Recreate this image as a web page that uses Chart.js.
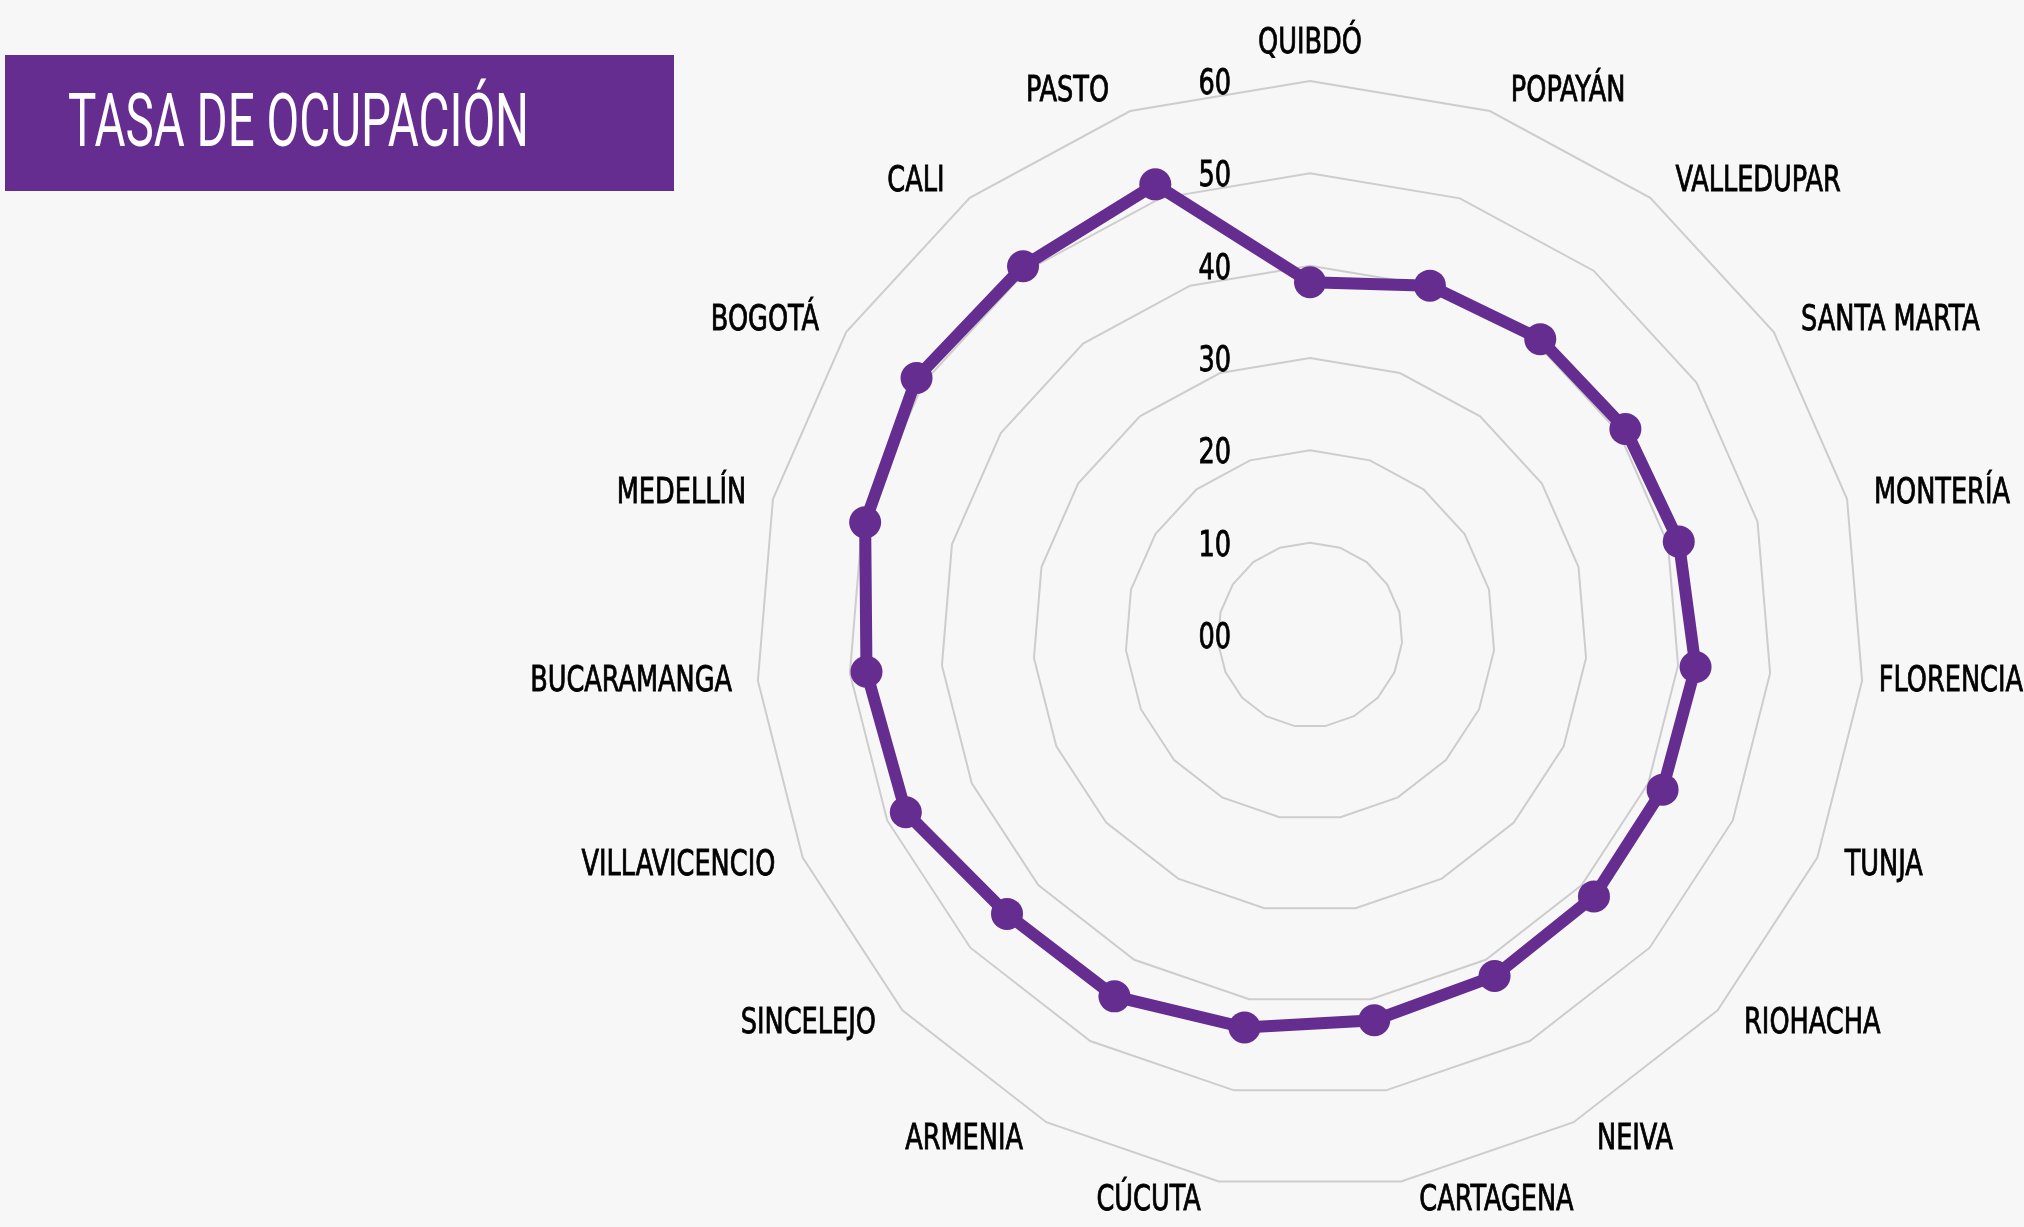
<!DOCTYPE html>
<html lang="es">
<head>
<meta charset="utf-8">
<title>Tasa de ocupación</title>
<script src="https://cdn.jsdelivr.net/npm/chart.js@4.4.1/dist/chart.umd.min.js"></script>
<style>
    html, body { margin: 0; padding: 0; background: #f7f7f7; }
    #wrap { position: absolute; left: 0; top: 0; width: 2024px; height: 1227px; }
    #title-box { position: absolute; left: 5px; top: 55px; width: 669px; height: 136px; background: #652d90; overflow: hidden; }
    #title-text {
        position: absolute; left: 63px; top: 29px; color: #ffffff;
        font-family: Roboto, "Liberation Sans", sans-serif; font-weight: 400; font-size: 74px;
        line-height: 74px; white-space: nowrap; transform-origin: 0 0;
    }
</style>
</head>
<body>
<div id="wrap"><canvas id="radar-chart"></canvas></div>
<div id="title-box"><span id="title-text">TASA DE OCUPACIÓN</span></div>
<script>
// categorias (sentido horario desde arriba)
const cities = [
    'QUIBDÓ', 'POPAYÁN', 'VALLEDUPAR', 'SANTA MARTA', 'MONTERÍA', 'FLORENCIA', 'TUNJA',
    'RIOHACHA', 'NEIVA', 'CARTAGENA', 'CÚCUTA', 'ARMENIA', 'SINCELEJO', 'VILLAVICENCIO',
    'BUCARAMANGA', 'MEDELLÍN', 'BOGOTÁ', 'CALI', 'PASTO'
];
// tasa de ocupacion (%)
const occupancy = [
    38.2, 40.0, 40.6, 40.8, 41.2, 41.9, 41.7,
    41.8, 42.0, 42.3, 43.1, 44.5, 44.6, 47.8,
    48.2, 49.7, 50.9, 50.6, 51.6
];
const tickValues = [0, 10, 20, 30, 40, 50, 60];
const tickLabels = ['00', '10', '20', '30', '40', '50', '60'];

const purple = '#652d90';

function fontExists(name) {
    const c = document.createElement('canvas').getContext('2d');
    const probe = 'QUIBDÓ BUCARAMANGA 0123456789';
    c.font = '40px monospace';
    const base = c.measureText(probe).width;
    c.font = `40px "${name}", monospace`;
    return c.measureText(probe).width !== base;
}

const labelFamily = ['Liberation Sans Narrow', 'DejaVu Sans Condensed', 'Noto Sans']
    .find((f) => fontExists(f)) || 'sans-serif';
const labelFont = `500 35px "${labelFamily}", sans-serif`;

// horizontal squeeze so labels match the condensed face of the original
const measureCtx = document.createElement('canvas').getContext('2d');
measureCtx.font = labelFont;
const squeeze = 202 / measureCtx.measureText('BUCARAMANGA').width;

// title width
const titleEl = document.getElementById('title-text');
measureCtx.font = '400 74px Roboto, "Liberation Sans", sans-serif';
titleEl.style.transform = `scaleX(${461 / measureCtx.measureText(titleEl.textContent).width})`;

function drawSqueezed(ctx, text, x, y, align, baseline) {
    ctx.save();
    ctx.translate(x, y);
    ctx.scale(squeeze, 1);
    ctx.textAlign = align;
    ctx.textBaseline = baseline;
    ctx.strokeText(text, 0, 0);
    ctx.fillText(text, 0, 0);
    ctx.restore();
}

const textPlugin = {
    id: 'radarText',
    afterDraw(chart) {
        const scale = chart.scales.r;
        const ctx = chart.ctx;
        ctx.save();
        ctx.font = labelFont;
        ctx.fillStyle = '#000000';
        ctx.strokeStyle = '#000000';
        ctx.lineWidth = 0.8;

        tickValues.forEach((v, i) => {
            const y = scale.yCenter - scale.getDistanceFromCenterForValue(v) + 4;
            drawSqueezed(ctx, tickLabels[i], scale.xCenter - 79, y, 'right', 'middle');
        });

        cities.forEach((name, i) => {
            const angle = scale.getIndexAngle(i);
            const deg = Math.round(angle * 180 / Math.PI);
            const pos = scale.getPointPosition(i, scale.drawingArea + 20);
            const nudge = 5 + 10 * Math.abs(Math.cos(angle));
            const w = ctx.measureText(name).width * squeeze;
            let align = 'center';
            let x = pos.x;
            if (deg > 0 && deg < 180) {
                align = 'left';
                x = Math.min(x + nudge, chart.width - w - 1);
            } else if (deg > 180) {
                align = 'right';
                x -= nudge;
            }
            const baseline = deg === 0 ? 'bottom' : 'middle';
            drawSqueezed(ctx, name, x, pos.y, align, baseline);
        });
        ctx.restore();
    }
};

new Chart(document.getElementById('radar-chart'), {
    type: 'radar',
    data: {
        labels: cities,
        datasets: [{
            label: 'Tasa de ocupación',
            data: occupancy,
            borderColor: purple,
            backgroundColor: purple,
            borderWidth: 12,
            fill: false,
            pointRadius: 16,
            pointBorderWidth: 0,
            pointBackgroundColor: purple,
            tension: 0
        }]
    },
    options: {
        responsive: true,
        maintainAspectRatio: false,
        animation: false,
        events: [],
        layout: { padding: { left: 756, right: 160, top: 81, bottom: 38 } },
        plugins: {
            legend: { display: false },
            title: { display: false },
            tooltip: { enabled: false }
        },
        scales: {
            r: {
                min: 0,
                max: 60,
                ticks: { stepSize: 10, display: false },
                grid: { color: '#cdcdcd', lineWidth: 2 },
                angleLines: { display: false },
                pointLabels: { display: false }
            }
        }
    },
    plugins: [textPlugin]
});
</script>
</body>
</html>
